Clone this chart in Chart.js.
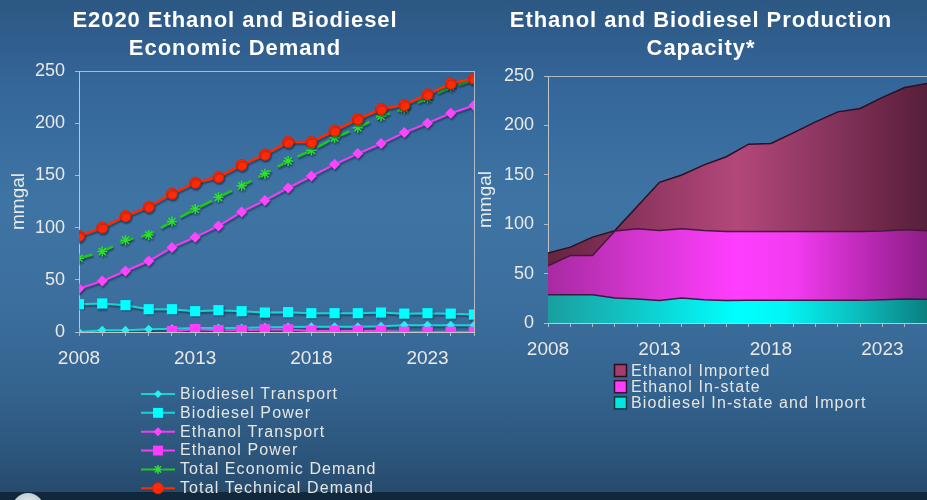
<!DOCTYPE html>
<html>
<head>
<meta charset="utf-8">
<script src="https://cdn.jsdelivr.net/npm/chart.js@4.4.1/dist/chart.umd.min.js"></script>
<style>
html,body{margin:0;padding:0;}
body{width:927px;height:500px;overflow:hidden;position:relative;
background:linear-gradient(to bottom,#2c5783 0%,#35679a 18%,#3e74a4 40%,#3c6f9e 60%,#34638f 78%,#2b5479 92%,#264b6d 98%);}
#strip{position:absolute;left:0;top:492px;width:927px;height:8px;background:#10283c;}
#logo{position:absolute;left:12px;top:493px;width:32px;height:32px;border-radius:50%;background:radial-gradient(circle at 50% 40%,#e8eef2,#9fb3c0);}
canvas{position:absolute;top:0;}
#c1{left:0;}
#c2{left:470px;}
</style>
</head>
<body>
<div id="strip"></div>
<div id="logo"></div>
<canvas id="c1" width="482" height="500"></canvas>
<canvas id="c2" width="457" height="500"></canvas>
<script>
// ---------- DATA ----------
const years = [2008,2009,2010,2011,2012,2013,2014,2015,2016,2017,2018,2019,2020,2021,2022,2023,2024,2025];
const xTickLabels = [2008,2013,2018,2023];

// Left chart: E2020 Ethanol and Biodiesel Economic Demand (mmgal)
const biodieselTransport = [0,1.6,1.6,2.6,3,3.8,3.8,3.8,4.5,4.8,5,5,5,5.5,6.5,6.5,6.5,6.5];
const biodieselPower     = [26.6,27.3,25.7,21.8,21.8,19.9,20.9,19.9,18.6,19,18,18,18,18.6,17.6,18,17.6,16.7];
const ethanolTransport   = [41.7,48.8,58.4,68,81,90.8,101.6,115,126,138,149.4,160.6,170.9,180.5,191,200,209.6,217];
const ethanolPower       = [null,null,null,null,0.7,2.6,1.6,1.6,2.3,2.3,1,1,1,1,0,0,0,0];
const totalEconomic      = [70.6,77,88,93,105.8,117.7,129,140,151.6,163.8,174,186,195.6,206.7,214,224,235,241];
const totalTechnical     = [92,100,111,120,132.5,143,148.5,160,170,182,182,193,204,213.6,217.5,227.7,238,242.8];

// Right chart: Ethanol and Biodiesel Production Capacity (mmgal, stacked)
const capBiodiesel       = [28.5,28.5,28.5,25.3,24.2,22.8,25.3,23.5,22.7,22.9,22.9,22.9,22.9,22.9,22.9,23.5,24.4,24.0];
const capEthanolInState  = [29.5,39.8,39.8,67.9,71.1,70.8,70.0,70.1,69.9,69.6,69.6,69.6,69.6,69.6,69.6,69.5,70.1,69.4];
const capEthanolImported = [12.7,8.5,18.6,0.3,22.5,48.8,54.5,66.4,75.7,88.5,89.3,100,111.1,121.2,124.7,135.3,143.9,149];

// ---------- HELPERS ----------
const FONT = '"Liberation Sans", Arial, Helvetica, sans-serif';
Chart.defaults.font.family = FONT;
const toXY = arr => years.map((yr,i) => ({x: yr, y: arr[i]}));
const AXIS = 'rgba(195,200,205,0.85)';
const TICK_TXT = '#e9e9e6';

function drawMarker(ctx, style, r, x, y, fill, stroke, bw){
  ctx.save();
  ctx.fillStyle = fill; ctx.strokeStyle = stroke; ctx.lineWidth = bw || 1;
  ctx.beginPath();
  if (style === 'circle') { ctx.arc(x, y, r, 0, Math.PI*2); ctx.fill(); if (bw) ctx.stroke(); }
  else if (style === 'rect') { const s = r*Math.SQRT1_2; ctx.rect(x-s, y-s, 2*s, 2*s); ctx.fill(); }
  else if (style === 'rectRot') { ctx.moveTo(x, y-r); ctx.lineTo(x+r, y); ctx.lineTo(x, y+r); ctx.lineTo(x-r, y); ctx.closePath(); ctx.fill(); }
  else if (style === 'star') {
    ctx.moveTo(x-r,y); ctx.lineTo(x+r,y); ctx.moveTo(x,y-r); ctx.lineTo(x,y+r);
    const d = r*Math.SQRT1_2;
    ctx.moveTo(x-d,y-d); ctx.lineTo(x+d,y+d); ctx.moveTo(x-d,y+d); ctx.lineTo(x+d,y-d);
    ctx.stroke();
  }
  ctx.restore();
}

function titlePlugin(lines, cx){
  return {
    id: 'titles',
    afterDraw(chart){
      const ctx = chart.ctx;
      ctx.save();
      ctx.font = 'bold 22px ' + FONT;
      ctx.letterSpacing = '0.95px';
      ctx.fillStyle = '#ffffff';
      ctx.textAlign = 'center';
      ctx.textBaseline = 'alphabetic';
      ctx.fillText(lines[0], cx, 27);
      ctx.fillText(lines[1], cx, 55);
      ctx.restore();
    }
  };
}

const boxPlugin = {
  id: 'box',
  beforeDatasetsDraw(chart){
    const {ctx, chartArea: a} = chart;
    ctx.save();
    ctx.strokeStyle = AXIS; ctx.lineWidth = 1;
    ctx.strokeRect(Math.round(a.left)+0.5, Math.round(a.top)+0.5, Math.round(a.right-a.left), Math.round(a.bottom-a.top));
    ctx.restore();
  }
};

const shadowPlugin = {
  id: 'shadow',
  beforeDatasetsDraw(chart){
    const c = chart.ctx; c.save();
    c.shadowColor = 'rgba(10,25,45,0.45)'; c.shadowOffsetX = 1; c.shadowOffsetY = 2; c.shadowBlur = 1.5;
  },
  afterDatasetsDraw(chart){ chart.ctx.restore(); }
};

const leftLegend = {
  id: 'leftLegend',
  afterDraw(chart){
    const ctx = chart.ctx;
    const dss = chart.data.datasets;
    ctx.save();
    ctx.font = '16px ' + FONT;
    ctx.letterSpacing = '1.1px';
    ctx.textBaseline = 'middle';
    ctx.fillStyle = '#e6e6e3';
    dss.forEach((ds, i) => {
      const y = 394 + i*18.85;
      ctx.save();
      ctx.strokeStyle = ds.borderColor; ctx.lineWidth = 2;
      ctx.setLineDash(ds.borderDash || []);
      ctx.beginPath(); ctx.moveTo(141, y); ctx.lineTo(175, y); ctx.stroke();
      ctx.restore();
      drawMarker(ctx, ds.pointStyle, ds.legendRadius, 158, y, ds.pointBackgroundColor, ds.pointBorderColor, ds.pointStyle === 'star' ? 1.5 : (ds.pointStyle==='circle'?1:0));
      ctx.fillStyle = '#e6e6e3';
      ctx.fillText(ds.label, 180, y + 0.5);
    });
    ctx.restore();
  }
};

function hGrad(chart, stops){
  const {ctx, chartArea} = chart;
  if (!chartArea) return stops[2][1];
  const g = ctx.createLinearGradient(chartArea.left, 0, chartArea.right, 0);
  stops.forEach(s => g.addColorStop(s[0], s[1]));
  return g;
}
const cyanStops = [[0,'#1a9e9e'],[0.2,'#12c2c2'],[0.5,'#00ffff'],[0.62,'#02f6f6'],[0.82,'#0cbcbc'],[1,'#0a7f80']];
const magStops  = [[0,'#a82aa2'],[0.25,'#d636d2'],[0.5,'#ff3eff'],[0.65,'#f23bf0'],[0.85,'#b828b2'],[1,'#8c1e86']];
const impStops  = [[0,'#642440'],[0.25,'#8e3660'],[0.5,'#b3477a'],[0.7,'#8f3862'],[0.9,'#6a2646'],[1,'#55203a']];

const rightLegend = {
  id: 'rightLegend',
  afterDraw(chart){
    const ctx = chart.ctx;
    const items = [
      ['Ethanol Imported', '#a63c6c', '#2a0d1d'],
      ['Ethanol In-state', '#ff3cff', '#3a1238'],
      ['Biodiesel In-state and Import', '#00e6e6', '#123838']
    ];
    ctx.save();
    ctx.font = '16px ' + FONT;
    ctx.letterSpacing = '1.1px';
    ctx.textBaseline = 'middle';
    items.forEach((it, i) => {
      const y = 371 + i*16.2;
      ctx.fillStyle = it[1]; ctx.strokeStyle = it[2]; ctx.lineWidth = 1.5;
      ctx.fillRect(144.5, y-6.5, 12, 12); ctx.strokeRect(144.5, y-6.5, 12, 12);
      ctx.fillStyle = '#e6e6e3';
      ctx.fillText(it[0], 161, y + 0.5);
    });
    ctx.restore();
  }
};

function xScale(padTop){
  return {
    type: 'linear', min: 2008, max: 2025,
    afterBuildTicks(s){ s.ticks = years.map(v => ({value: v})); },
    ticks: { autoSkip: false, maxRotation: 0, minRotation: 0, color: TICK_TXT, font: {size: 19}, padding: padTop,
      callback: v => xTickLabels.includes(v) ? String(v) : '' },
    grid: { drawOnChartArea: false, drawTicks: true, tickLength: 4, color: AXIS },
    border: { display: true, color: AXIS },
    afterFit(s){ s.height = 40; s.paddingLeft = 0; s.paddingRight = 0; }
  };
}
function yScale(width, titlePad){
  return {
    min: 0, max: 250,
    ticks: { stepSize: 50, color: TICK_TXT, font: {size: 18}, padding: 10 },
    grid: { drawOnChartArea: false, drawTicks: true, tickLength: 4, color: AXIS },
    border: { display: true, color: AXIS },
    title: { display: true, text: 'mmgal', color: TICK_TXT, font: {size: 19}, padding: {top: titlePad, bottom: 0} },
    afterFit(s){ s.width = width; }
  };
}

// ---------- LEFT CHART ----------
new Chart(document.getElementById('c1'), {
  type: 'line',
  data: {
    datasets: [
      { label: 'Biodiesel Transport', data: toXY(biodieselTransport), order: 5,
        borderColor: '#17d4d4', backgroundColor: '#20f2f2', borderWidth: 2,
        pointStyle: 'rectRot', pointRadius: 4.5, legendRadius: 4, pointBorderWidth: 0,
        pointBackgroundColor: '#20f2f2', pointBorderColor: '#20f2f2' },
      { label: 'Biodiesel Power', data: toXY(biodieselPower), order: 4,
        borderColor: '#17d4d4', backgroundColor: '#00ffff', borderWidth: 2,
        pointStyle: 'rect', pointRadius: 7.2, legendRadius: 7, pointBorderWidth: 0,
        pointBackgroundColor: '#00ffff', pointBorderColor: '#00ffff' },
      { label: 'Ethanol Transport', data: toXY(ethanolTransport), order: 2,
        borderColor: '#f53cf5', backgroundColor: '#ff44ff', borderWidth: 2,
        pointStyle: 'rectRot', pointRadius: 5.5, legendRadius: 4.5, pointBorderWidth: 0,
        pointBackgroundColor: '#ff44ff', pointBorderColor: '#ff44ff' },
      { label: 'Ethanol Power', data: toXY(ethanolPower), order: 3,
        borderColor: '#f53cf5', backgroundColor: '#ff3cff', borderWidth: 2,
        pointStyle: 'rect', pointRadius: 7.5, legendRadius: 7, pointBorderWidth: 0,
        pointBackgroundColor: '#ff3cff', pointBorderColor: '#ff3cff' },
      { label: 'Total Economic Demand', data: toXY(totalEconomic), order: 1,
        borderColor: '#1ec81e', backgroundColor: '#2ee02e', borderWidth: 2.5, borderDash: [14, 8],
        pointStyle: 'star', pointRadius: 5, legendRadius: 4.5, pointBorderWidth: 1.5,
        pointBackgroundColor: '#2ee02e', pointBorderColor: '#2ee02e' },
      { label: 'Total Technical Demand', data: toXY(totalTechnical), order: 0,
        borderColor: '#ff2a00', backgroundColor: '#ff2a08', borderWidth: 2.5,
        pointStyle: 'circle', pointRadius: 5.5, legendRadius: 5.5, pointBorderWidth: 1,
        pointBackgroundColor: '#ff2a08', pointBorderColor: '#e02000' }
    ]
  },
  options: {
    responsive: false, animation: false,
    layout: { padding: { left: 0, right: 8, top: 71, bottom: 128 } },
    elements: { line: { tension: 0 } },
    scales: { x: xScale(11), y: yScale(79, 7) },
    plugins: { legend: { display: false }, tooltip: { enabled: false } }
  },
  plugins: [boxPlugin, shadowPlugin, leftLegend, titlePlugin(['E2020 Ethanol and Biodiesel', 'Economic Demand'], 235)]
});

// ---------- RIGHT CHART ----------
new Chart(document.getElementById('c2'), {
  type: 'line',
  data: {
    datasets: [
      { label: 'Biodiesel In-state and Import', data: toXY(capBiodiesel), fill: 'origin',
        borderColor: '#3a1a40', borderWidth: 1.5, pointRadius: 0,
        backgroundColor: c => hGrad(c.chart, cyanStops) },
      { label: 'Ethanol In-state', data: toXY(capEthanolInState), fill: '-1',
        borderColor: '#4a1640', borderWidth: 1.5, pointRadius: 0,
        backgroundColor: c => hGrad(c.chart, magStops) },
      { label: 'Ethanol Imported', data: toXY(capEthanolImported), fill: '-1',
        borderColor: '#2e0f22', borderWidth: 1.5, pointRadius: 0,
        backgroundColor: c => hGrad(c.chart, impStops) }
    ]
  },
  options: {
    responsive: false, animation: false,
    layout: { padding: { left: 0, right: 0, top: 76, bottom: 137 } },
    elements: { line: { tension: 0 } },
    scales: { x: xScale(11), y: Object.assign(yScale(78, 4), { stacked: true }) },
    plugins: { legend: { display: false }, tooltip: { enabled: false } }
  },
  plugins: [boxPlugin, rightLegend, titlePlugin(['Ethanol and Biodiesel Production', 'Capacity*'], 231)]
});
</script>
</body>
</html>
